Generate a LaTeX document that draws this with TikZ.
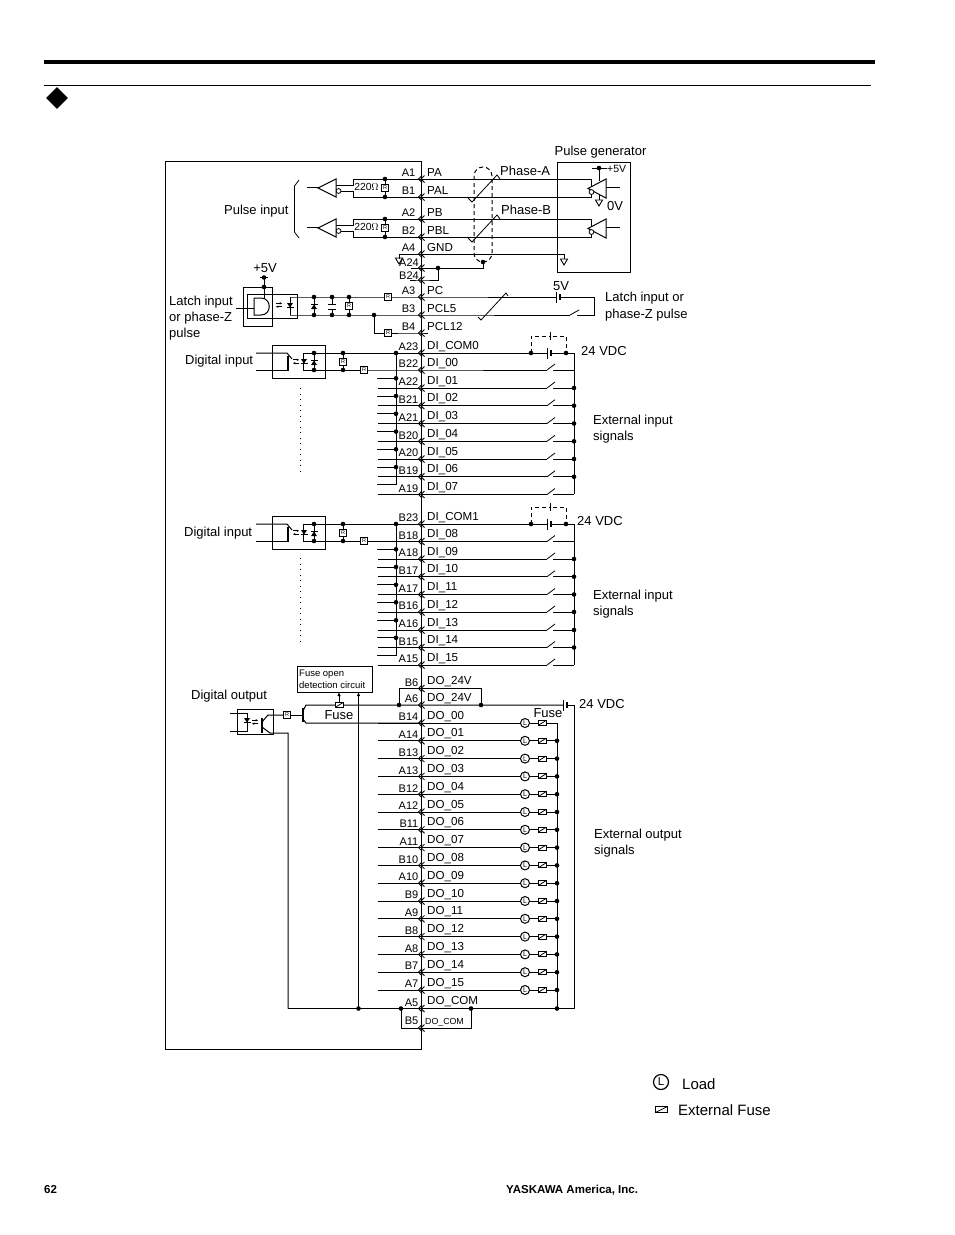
\documentclass[tikz,border=0pt]{standalone}
\usepackage{fontspec}
\setmainfont{Liberation Sans}
\usetikzlibrary{shapes.geometric,arrows.meta}
\newcommand{\jdot}[1]{\fill #1 circle (2.3);}
\newcommand{\fsz}[1]{\fontsize{#1}{#1}\selectfont}
\tikzset{
  wire/.style={line width=1pt},
  thinw/.style={line width=.8pt},
  arr/.style={line width=.7pt,-{Stealth[length=2.4pt,width=2.4pt]}},
  shield/.style={line width=1pt,dash pattern=on 4pt off 3pt},
  pinlab/.style={font=\fontsize{11}{12}\selectfont,anchor=east,inner sep=0},
  siglab/.style={font=\fontsize{11.6}{13}\selectfont,anchor=west,inner sep=0},
  lab/.style={font=\fontsize{13}{16}\selectfont,align=left,anchor=west,inner sep=0},
  rbox/.style={draw,line width=.7pt,fill=white,minimum size=7pt,inner sep=0,font=\fsz{5.5}},
  loadc/.style={draw,circle,line width=1pt,fill=white,minimum size=9pt,inner sep=0,font=\fsz{7}},
  fusebox/.style={draw,line width=.9pt,fill=white,minimum width=8pt,minimum height=5pt,inner sep=0,
    path picture={\draw[line width=.8pt] (path picture bounding box.south west) -- (path picture bounding box.north east);}},
  chev/.pic={\draw[line width=.8pt] (1,-3.5) -- (-2.5,0) -- (1,3.5) (3.5,-3.5) -- (0,0) -- (3.5,3.5);},
  gnd/.pic={\draw[line width=.9pt] (-3.5,0) -- (3.5,0) -- (0,6) -- cycle;},
  batt/.pic={\draw[line width=1pt] (0,-5.5) -- (0,5.5); \draw[line width=1.6pt] (4,-2.7) -- (4,2.7);},
  dndiode/.pic={\fill (-3,-2) -- (3,-2) -- (0,2.5) -- cycle; \draw[line width=.9pt] (-3.5,2.5) -- (3.5,2.5);},
  updiode/.pic={\fill (-3,2) -- (3,2) -- (0,-2.5) -- cycle; \draw[line width=.9pt] (-3.5,-2.5) -- (3.5,-2.5);},
  lightarrs/.pic={\draw[arr] (-3,-1.7) -- (3,-1.7); \draw[arr] (3,1.7) -- (-3,1.7);},
}
\begin{document}
\begin{tikzpicture}[x=1pt,y=-1pt]
  \useasboundingbox (0,0) rectangle (954,1235);
  % page rules
  \draw[line width=4pt] (44,62) -- (875,62);
  \draw[line width=1pt] (44,85) -- (871,85);
  \node[diamond,fill,inner sep=0,minimum size=22pt] (mark) at (57,98) {};
  \node[font=\bfseries\fsz{11.5},anchor=west,inner sep=0] (pageno) at (44,1190) {62};
  \node[font=\bfseries\fsz{11.5},anchor=west,inner sep=0] (maker) at (506,1190) {YASKAWA America, Inc.};
  % controller outline
  \draw[wire] (165,161) rectangle (421,1049);
  % connector pins
  \foreach \p/\s/\y in {A1/PA/179,B1/PAL/197,A2/PB/219,B2/PBL/237,A4/GND/254,A3/PC/297,B3/PCL5/315,B4/PCL12/333,
      A23/DI\_COM0/353,B22/DI\_00/370,A22/DI\_01/388,B21/DI\_02/405.7,A21/DI\_03/423.5,B20/DI\_04/441.3,A20/DI\_05/459,B19/DI\_06/476.8,A19/DI\_07/494.5,
      B23/DI\_COM1/524,B18/DI\_08/541.5,A18/DI\_09/559,B17/DI\_10/576.7,A17/DI\_11/594.5,B16/DI\_12/612,A16/DI\_13/630,B15/DI\_14/647.5,A15/DI\_15/665,
      B6/DO\_24V/688.5,A6/DO\_24V/705,B14/DO\_00/723,A14/DO\_01/740.8,B13/DO\_02/758.6,A13/DO\_03/776.4,B12/DO\_04/794.2,A12/DO\_05/812,B11/DO\_06/829.8,A11/DO\_07/847.6,
      B10/DO\_08/865.4,A10/DO\_09/883.2,B9/DO\_10/901,A9/DO\_11/918.8,B8/DO\_12/936.6,A8/DO\_13/954.4,B7/DO\_14/972.2,A7/DO\_15/990,A5/DO\_COM/1008.5} {
    \pgfmathsetmacro{\px}{\y<340?415.5:418.5}
    \coordinate (c\p) at (421,\y);
    \node[pinlab] (pin\p) at (\px,\y-6) {\p};
    \node[siglab] (sig\p) at (427,\y-6.8) {\s};
    \pic at (c\p) {chev};
  }
  \coordinate (cA24) at (421,268);
  \coordinate (cB24) at (421,280);
  \coordinate (cB5) at (421,1028);
  \node[pinlab] (pinA24) at (419,263) {A24};
  \node[pinlab] (pinB24) at (419,276) {B24};
  \node[pinlab] (pinB5) at (418.5,1021) {B5};
  \node[siglab,font=\fsz{8.8}] (sigB5) at (425,1022) {DO\_COM};
  \pic at (cA24) {chev};
  \pic at (cB24) {chev};
  \pic at (cB5) {chev};
  % pulse input
  \draw[thinw] (299,180) -- (294.5,186) -- (294.5,232) -- (299,238);
  \node[lab] (pulsein) at (224,211.5) {Pulse input};
  \foreach \a/\b/\t in {A1/B1/179,A2/B2/219} {
    \draw[wire] (c\a) -- ++(170,0) -- ++(0,7);
    \draw[wire] (c\b) -- ++(170,0) -- ++(0,-3);
    \draw[wire] (c\a) -- ++(-68,0) -- ++(0,6) -- ++(-17,0);
    \draw[wire] (c\b) -- ++(-68,0) -- ++(0,-6) -- ++(-12,0);
    \draw[wire,fill=white] (336,\t) -- (336,\t+18) -- (318,\t+9) -- cycle;
    \draw[wire] (307,\t+8.5) -- (318,\t+8.5);
    \draw[thinw,fill=white] (338.6,\t+12) circle (2.4);
    \draw[wire] (385,\t) -- (385,\t+18);
    \jdot{(385,\t)}
    \jdot{(385,\t+18)}
    \node[rbox] (r\a) at (385,\t+9) {R};
    \node[inner sep=0,font=\fsz{10.3}] (ohm\a) at (366.5,\t+8) {220$\Omega$};
    % line driver in the generator
    \draw[wire,fill=white] (606,\t) -- (606,\t+19) -- (588,\t+9.5) -- cycle;
    \draw[wire] (606,\t+8.5) -- (620,\t+8.5);
    \draw[thinw,fill=white] (591.5,\t+13) circle (2.4);
    % twisted pair
    \draw[thinw] (468,\t+19) -- (472,\t+23) -- (497,\t-4) -- (500,\t);
  }
  \draw[wire] (592,168) -- (607,168);
  \jdot{(599,168)}
  \draw[wire] (599,168) -- (599,181);
  \draw[wire] (599,194) -- (599,200);
  \pic at (599,200) {gnd};
  \node[inner sep=0,anchor=west,font=\fsz{10.5}] (plusfive) at (607,169) {+5V};
  \node[lab] (zerov) at (607,206) {0V};
  \node[lab] (phasea) at (500,171) {Phase-A};
  \node[lab] (phaseb) at (501,210) {Phase-B};
  \draw[wire] (557,162) rectangle (630,272);
  \node[lab,anchor=center] (pgen) at (600.5,152) {Pulse generator};
  % cable shield and grounds
  \draw[wire] (cA4) -- ++(143,0) -- ++(0,5);
  \pic at (564,259) {gnd};
  \draw[wire] (cA4) -- ++(-22,0) -- ++(0,5);
  \pic at (399,258) {gnd};
  \draw[shield,rounded corners=9pt] (474,167) rectangle (492,262);
  \draw[wire] (cA24) ++(-10,0) -- ++(72,0) -- ++(0,-6);
  \draw[wire] (cA24) ++(17,0) -- ++(0,12) -- (cB24) -- ++(-11,0);
  \jdot{(483,262)}
  \jdot{(438,268)}
  % latch input
  \node[lab] (latchl) at (169,318) {Latch input\\or phase-Z\\pulse};
  \node[lab,anchor=center] (plus5l) at (265,268) {+5V};
  \draw[wire] (243,287) rectangle (272,326);
  \draw[wire] (247,294) rectangle (297,318);
  \draw[wire] (236,308) -- (254,308);
  \draw[wire,fill=white] (254,298) -- (261,298) .. controls (272,298) and (272,315) .. (261,315) -- (254,315) -- cycle;
  \draw[wire] (264,298) -- (264,277.5);
  \draw[wire] (260,277.5) -- (268,277.5);
  \jdot{(264,287)}
  \jdot{(264,277.5)}
  \pic at (279,305) {lightarrs};
  \draw[wire] (290,297) -- (290,315);
  \pic at (290,305) {dndiode};
  \draw[wire] (cA3) ++(-131,0) -- (cA3) -- ++(135,0);
  \pic at (556,297) {batt};
  \draw[wire] (560,297) -- (594,297) -- (594,315) -- (577,315);
  \draw[wire] (cB3) ++(-131,0) -- (cB3) -- ++(149,0);
  \draw[thinw] (570,315) -- (579,310);
  \draw[thinw] (478,317) -- (481,320) -- (506,293) -- (508,296);
  \node[lab,anchor=center] (fivev) at (561,286) {5V};
  \node[lab] (latchr) at (605,307) {Latch input or\\[1pt]phase-Z pulse};
  \draw[wire] (314,297) -- (314,315) (332,297) -- (332,304.5) (332,309) -- (332,315) (349,297) -- (349,315);
  \pic at (314,307) {updiode};
  \draw[wire] (328,304.5) -- (336,304.5) (328,309) -- (336,309);
  \foreach \x in {314,332,349} {
    \jdot{(\x,297)}
    \jdot{(\x,315)}
  }
  \jdot{(374,315)}
  \node[rbox] (rlatch) at (349,306) {R};
  \node[rbox] (rpc) at (388,297) {R};
  \draw[wire] (cB4) ++(7,0) -- (cB4) -- (374,333) -- (374,315);
  \node[rbox] (rpcl) at (388,333) {R};
  % digital inputs
  \foreach \ca/\cb/\t/\vx/\dy in {A23/B22/353/581/0,B23/B18/524/577/-1} {
    \draw[wire] (272,\t-8) rectangle (325,\t+25);
    \draw[wire] (256,\t) -- (287,\t) -- (292,\t+6);
    \draw[wire] (256,\t+17) -- (288,\t+17);
    \draw[line width=1.3pt] (288,\t+3) -- (288,\t+18);
    \pic at (296,\t+8.5) {lightarrs};
    \draw[wire] (c\ca) -- ++(126,0);
    \draw[wire] (c\ca) -- ++(-118,0) -- ++(0,17) -- ++(118,0) -- (c\cb) -- ++(126,0);
    \pic at (304,\t+8) {dndiode};
    \draw[wire] (314,\t) -- (314,\t+17) (343,\t) -- (343,\t+17);
    \pic at (314,\t+10) {updiode};
    \foreach \x in {314,343} {
      \jdot{(\x,\t)}
      \jdot{(\x,\t+17)}
    }
    \jdot{(396,\t)}
    \draw[wire] (396,\t) -- (396,\t+131.5);
    \node[rbox] (ra\ca) at (343,\t+8.5) {R};
    \node[rbox] (rb\ca) at (364,\t+17) {R};
    \pic at (547,\t) {batt};
    \draw[wire] (551,\t) -- (574,\t) -- (574,\t+141.3);
    \draw[shield] (531,\t) -- (531,\t-17) -- (550,\t-17);
    \draw[shield] (553,\t-17) -- (566,\t-17) -- (566,\t);
    \draw[wire] (550,\t-21) -- (550,\t-13);
    \jdot{(531,\t)}
    \jdot{(566,\t)}
    \node[lab] (vdc\ca) at (\vx,\t-2+\dy) {24 VDC};
  }
  \node[lab] (digl) at (185,361.5) {Digital input};
  \node[lab] (digm) at (184,533.5) {Digital input};
  \node[lab] (exta) at (593,429) {External input\\signals};
  \node[lab] (extb) at (593,604.5) {External input\\signals};
  \foreach \p in {A22,B21,A21,B20,A20,B19,A19,A18,B17,A17,B16,A16,B15,A15} {
    \draw[wire] (c\p) ++(-43,0) -- ++(169,0);
    \draw[wire] (c\p) ++(-44,-9.7) -- ++(19,0);
  }
  \foreach \p in {B22,A22,B21,A21,B20,A20,B19,A19,B18,A18,B17,A17,B16,A16,B15,A15} {
    \draw[thinw] (c\p) ++(126,0) -- ++(8,-6);
    \draw[wire] (c\p) ++(132,0) -- ++(21,0);
  }
  \foreach \p in {A22,B21,A21,B20,A20,B19,A18,B17,A17,B16,A16,B15} {
    \jdot{(c\p) ++(153,0)}
    \jdot{(c\p) ++(-25,-9.7)}
  }
  \draw[line width=1pt,dash pattern=on 1pt off 4.5pt] (300,388) -- (300,472);
  \draw[line width=1pt,dash pattern=on 1pt off 4.5pt] (300,558) -- (300,642);
  % digital output
  \node[lab] (digo) at (191,696.5) {Digital output};
  \draw[wire] (237,709) rectangle (273,734);
  \draw[wire] (230,713) -- (247,713) -- (247,731) -- (230,731);
  \pic at (247,720) {dndiode};
  \pic at (255,722) {lightarrs};
  \draw[wire] (287,715) -- (268,715) -- (262,722);
  \draw[line width=1.3pt] (262,718) -- (262,733);
  \draw[wire] (262,727) -- (270,733) -- (288,733) -- (288,1008.5);
  \draw[wire] (287,715) -- (303,715);
  \node[rbox] (rdo) at (287,715) {R};
  \draw[line width=1.3pt] (303,708) -- (303,722);
  \draw[wire] (303,711) -- (306,705) -- (cA6) -- ++(142,0);
  \draw[wire] (303,719) -- (306,723) -- (cB14);
  \pic at (563,705) {batt};
  \draw[wire] (567,705) -- (574,705) -- (574,1008.5);
  \draw[wire] (cB6) -- (399,688.5) -- (399,705);
  \draw[wire] (cB6) -- (481,688.5) -- (481,705);
  \jdot{(399,705)}
  \jdot{(481,705)}
  \node[lab] (vdcdo) at (579,704) {24 VDC};
  \node[fusebox] (fusedet) at (339,705) {};
  \node[draw,wire,minimum width=75pt,minimum height=26pt,inner sep=0] (fdbox) at (334.5,679) {};
  \node[inner sep=0,anchor=west,align=left,font=\fontsize{9.5}{12}\selectfont] (fdtext) at (299,679) {Fuse open\\detection circuit};
  \draw[line width=.9pt,-{Latex[length=4pt,width=3.5pt]}] (fusedet) -- (339,692);
  \draw[line width=.9pt,-{Latex[length=4pt,width=3.5pt]}] (358.5,1008.5) -- (358.5,692);
  \node[lab,anchor=center] (fusel) at (339,715) {Fuse};
  \node[lab,anchor=center] (fuser) at (548,713) {Fuse};
  \foreach \p in {B14,A14,B13,A13,B12,A12,B11,A11,B10,A10,B9,A9,B8,A8,B7,A7} {
    \draw[wire] (c\p) ++(-43,0) -- ++(179,0);
    \node[loadc] (l\p) at ([xshift=104pt]c\p) {L};
    \node[fusebox] (f\p) at ([xshift=121pt]c\p) {};
  }
  \foreach \p in {A14,B13,A13,B12,A12,B11,A11,B10,A10,B9,A9,B8,A8,B7,A7} {
    \jdot{(c\p) ++(136,0)}
  }
  \draw[wire] (557,723) -- (557,1008.5);
  \draw[wire] (cA5) ++(-133,0) -- ++(286,0);
  \draw[wire] (401,1008.5) -- (401,1028) -- (471,1028) -- (471,1008.5);
  \foreach \x in {358.5,401,471,557} {
    \jdot{(\x,1008.5)}
  }
  \node[lab] (exto) at (594,843) {External output\\signals};
  % legend
  \node[draw,circle,line width=1.2pt,minimum size=15pt,inner sep=0,font=\fsz{11.5}] (legl) at (661,1082) {L};
  \node[lab,font=\fsz{15}] (legload) at (682,1084) {Load};
  \node[fusebox,line width=1.3pt,minimum width=12pt,minimum height=6pt] (legf) at (661.5,1109.5) {};
  \node[lab,font=\fsz{15}] (legfuse) at (678,1110) {External Fuse};
\end{tikzpicture}
\end{document}
